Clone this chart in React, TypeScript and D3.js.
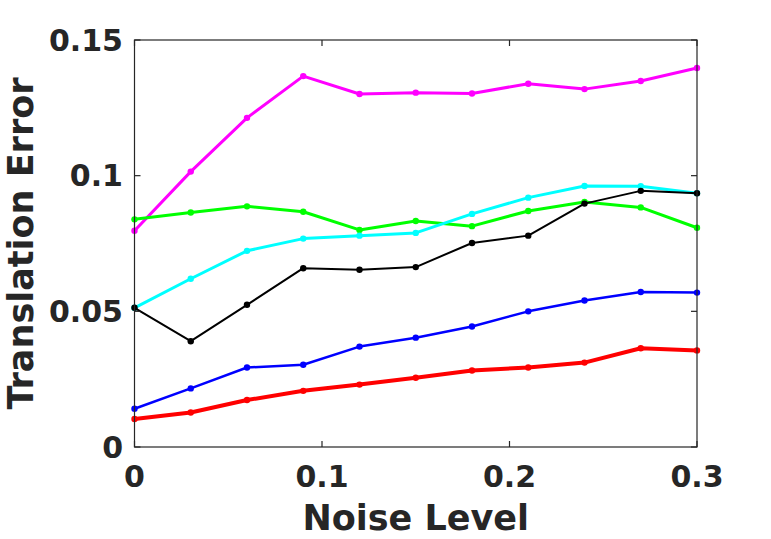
import React from 'react';
import { scaleLinear, line as d3Line } from 'd3';

// noise levels on the x axis
const noise = [0, 0.03, 0.06, 0.09, 0.12, 0.15, 0.18, 0.21, 0.24, 0.27, 0.3];

const magenta = [0.0797, 0.1015, 0.1213, 0.1367, 0.1301, 0.1306, 0.1303, 0.1339, 0.1319, 0.1349, 0.1397];
const green = [0.0839, 0.0864, 0.0887, 0.0867, 0.08, 0.0833, 0.0814, 0.087, 0.0903, 0.0883, 0.0808];
const cyan = [0.0513, 0.062, 0.0723, 0.0768, 0.0779, 0.0789, 0.0859, 0.0919, 0.0962, 0.0961, 0.0935];
const black = [0.0513, 0.039, 0.0524, 0.0659, 0.0653, 0.0663, 0.0752, 0.0779, 0.0897, 0.0944, 0.0935];
const blue = [0.0141, 0.0216, 0.0293, 0.0303, 0.037, 0.0403, 0.0444, 0.05, 0.054, 0.0571, 0.0569];
const red = [0.0103, 0.0127, 0.0173, 0.0207, 0.023, 0.0255, 0.0282, 0.0293, 0.0311, 0.0364, 0.0356];

const xTicks = [0, 0.1, 0.2, 0.3];
const yTicks = [0, 0.05, 0.1, 0.15];

const series = [
  { name: 'magenta', values: magenta, color: '#ff00ff', width: 3 },
  { name: 'green', values: green, color: '#00ff00', width: 3 },
  { name: 'cyan', values: cyan, color: '#00ffff', width: 3 },
  { name: 'black', values: black, color: '#000000', width: 2 },
  { name: 'blue', values: blue, color: '#0000ff', width: 2.5 },
  { name: 'red', values: red, color: '#ff0000', width: 4 },
];

const W = 771;
const H = 539;
const margin = { top: 40, right: 74, bottom: 92, left: 134.5 };
const axisColor = '#262626';
const font = '"DejaVu Sans", sans-serif';

export default function App() {
  const x = scaleLinear().domain([0, 0.3]).range([margin.left, W - margin.right]);
  const y = scaleLinear().domain([0, 0.15]).range([H - margin.bottom, margin.top]);
  const [x0, x1] = x.range();
  const [yb, yt] = y.range();

  const tick = 6;

  return (
    <svg
      width={W}
      height={H}
      style={{ position: 'fixed', left: 0, top: 0, background: '#fff', display: 'block' }}
    >
      {/* series */}
      {series.map(s => {
        const pts = s.values.map((v, i) => [x(noise[i]), y(v)] as [number, number]);
        const d = d3Line()(pts) || '';
        return (
          <g key={s.name}>
            <path d={d} fill="none" stroke={s.color} strokeWidth={s.width} strokeLinejoin="round" />
            {pts.map((p, i) => (
              <circle key={i} cx={p[0]} cy={p[1]} r={3.2} fill={s.color} />
            ))}
          </g>
        );
      })}

      {/* box */}
      <rect x={x0} y={yt} width={x1 - x0} height={yb - yt} fill="none" stroke={axisColor} strokeWidth={1.2} />

      {/* x ticks */}
      {xTicks.map(t => (
        <g key={'x' + t}>
          <line x1={x(t)} x2={x(t)} y1={yb} y2={yb - tick} stroke={axisColor} strokeWidth={1.2} />
          <line x1={x(t)} x2={x(t)} y1={yt} y2={yt + tick} stroke={axisColor} strokeWidth={1.2} />
          <text
            x={x(t)}
            y={487}
            textAnchor="middle"
            fontFamily={font}
            fontWeight="bold"
            fontSize={30}
            fill={axisColor}
          >
            {String(t)}
          </text>
        </g>
      ))}

      {/* y ticks */}
      {yTicks.map(t => (
        <g key={'y' + t}>
          <line x1={x0} x2={x0 + tick} y1={y(t)} y2={y(t)} stroke={axisColor} strokeWidth={1.2} />
          <line x1={x1} x2={x1 - tick} y1={y(t)} y2={y(t)} stroke={axisColor} strokeWidth={1.2} />
          <text
            x={123}
            y={y(t)}
            dy="0.36em"
            textAnchor="end"
            fontFamily={font}
            fontWeight="bold"
            fontSize={30}
            fill={axisColor}
          >
            {String(t)}
          </text>
        </g>
      ))}

      {/* axis titles */}
      <text
        x={(x0 + x1) / 2}
        y={530}
        textAnchor="middle"
        fontFamily={font}
        fontWeight="bold"
        fontSize={35}
        fill={axisColor}
      >
        Noise Level
      </text>
      <text
        transform={`translate(33,${(yb + yt) / 2}) rotate(-90)`}
        textAnchor="middle"
        fontFamily={font}
        fontWeight="bold"
        fontSize={35}
        fill={axisColor}
      >
        Translation Error
      </text>
    </svg>
  );
}
